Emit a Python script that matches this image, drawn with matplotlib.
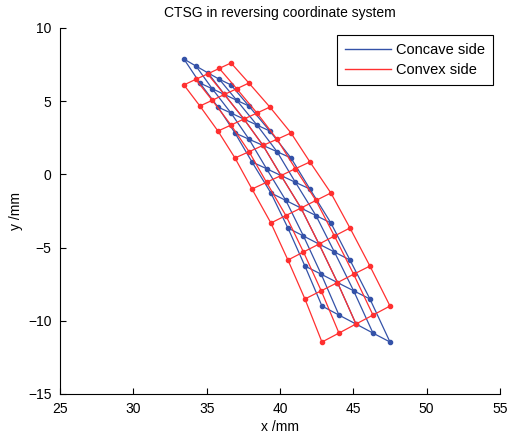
import matplotlib
matplotlib.use("Agg")
import matplotlib.pyplot as plt
from matplotlib.lines import Line2D
import numpy as np

plt.rcParams['font.family'] = ['Liberation Sans', 'DejaVu Sans']

# convex side grid (9 rows x 5 points)
convex_x = [
    [33.45, 34.25, 35.06, 35.86, 36.66],
    [34.54, 35.38, 36.21, 37.05, 37.88],
    [35.77, 36.66, 37.54, 38.43, 39.31],
    [36.93, 37.89, 38.84, 39.80, 40.75],
    [38.09, 39.08, 40.07, 41.05, 42.04],
    [39.38, 40.40, 41.43, 42.45, 43.47],
    [40.54, 41.60, 42.66, 43.71, 44.77],
    [41.70, 42.81, 43.92, 45.02, 46.13],
    [42.86, 44.02, 45.18, 46.34, 47.50],
]
convex_y = [
    [6.11, 6.49, 6.86, 7.24, 7.61],
    [4.67, 5.06, 5.46, 5.85, 6.24],
    [2.96, 3.37, 3.78, 4.19, 4.60],
    [1.12, 1.55, 1.98, 2.40, 2.83],
    [-1.00, -0.54, -0.08, 0.39, 0.85],
    [-3.32, -2.81, -2.30, -1.78, -1.27],
    [-5.85, -5.30, -4.76, -4.21, -3.66],
    [-8.51, -7.95, -7.39, -6.82, -6.26],
    [-11.45, -10.84, -10.22, -9.61, -8.99],
]

# concave side grid
concave_x = [
    [33.45, 34.27, 35.09, 35.86, 36.66],
    [34.54, 35.38, 36.21, 37.05, 37.88],
    [35.77, 36.66, 37.54, 38.43, 39.31],
    [36.93, 37.89, 38.84, 39.80, 40.75],
    [38.09, 39.08, 40.07, 41.05, 42.04],
    [39.38, 40.40, 41.43, 42.45, 43.47],
    [40.54, 41.60, 42.66, 43.71, 44.77],
    [41.70, 42.81, 43.92, 45.02, 46.13],
    [42.86, 44.02, 45.18, 46.34, 47.50],
]
concave_y = [
    [7.88, 7.40, 6.93, 6.50, 6.11],
    [6.24, 5.85, 5.46, 5.06, 4.67],
    [4.60, 4.19, 3.78, 3.37, 2.96],
    [2.83, 2.40, 1.98, 1.55, 1.12],
    [0.85, 0.39, -0.08, -0.54, -1.00],
    [-1.27, -1.78, -2.30, -2.81, -3.32],
    [-3.66, -4.21, -4.76, -5.30, -5.85],
    [-6.26, -6.82, -7.39, -7.95, -8.51],
    [-8.99, -9.61, -10.22, -10.84, -11.45],
]

blue = '#3452a8'
red = '#ff3030'


def draw_grid(ax, gx, gy, color):
    gx = np.array(gx)
    gy = np.array(gy)
    for i in range(gx.shape[0]):
        ax.plot(gx[i], gy[i], '-', color=color, lw=0.9, marker='o', ms=3,
                mec=color, mfc=color)
    for j in range(gx.shape[1]):
        ax.plot(gx[:, j], gy[:, j], '-', color=color, lw=0.9)


fig = plt.figure(figsize=(5.11, 4.34), dpi=100)
ax = fig.add_axes([0.1174, 0.0922, 0.8611, 0.8433])

draw_grid(ax, concave_x, concave_y, blue)
draw_grid(ax, convex_x, convex_y, red)

ax.set_xlim(25, 55)
ax.set_ylim(-15, 10)
ax.set_xticks(range(25, 56, 5))
ax.set_yticks(range(-15, 11, 5))
ax.spines['top'].set_visible(False)
ax.spines['right'].set_visible(False)
ax.tick_params(direction='in', labelsize=10, length=4, pad=6)

ax.set_title('CTSG in reversing coordinate system', fontsize=10, pad=8)
ax.set_xlabel('x /mm', fontsize=10, labelpad=3)
ax.set_ylabel('y /mm', fontsize=10, labelpad=4)

handles = [Line2D([], [], color=blue, lw=1), Line2D([], [], color=red, lw=1)]
leg = ax.legend(handles, ['Concave side', 'Convex side'], loc='upper right',
                fontsize=10.5, fancybox=False, edgecolor='black', framealpha=1,
                handlelength=3.2, handletextpad=0.3, borderpad=0.55,
                labelspacing=0.4, borderaxespad=0.5)
leg.get_frame().set_linewidth(0.8)

fig.savefig('out.png', dpi=100)
